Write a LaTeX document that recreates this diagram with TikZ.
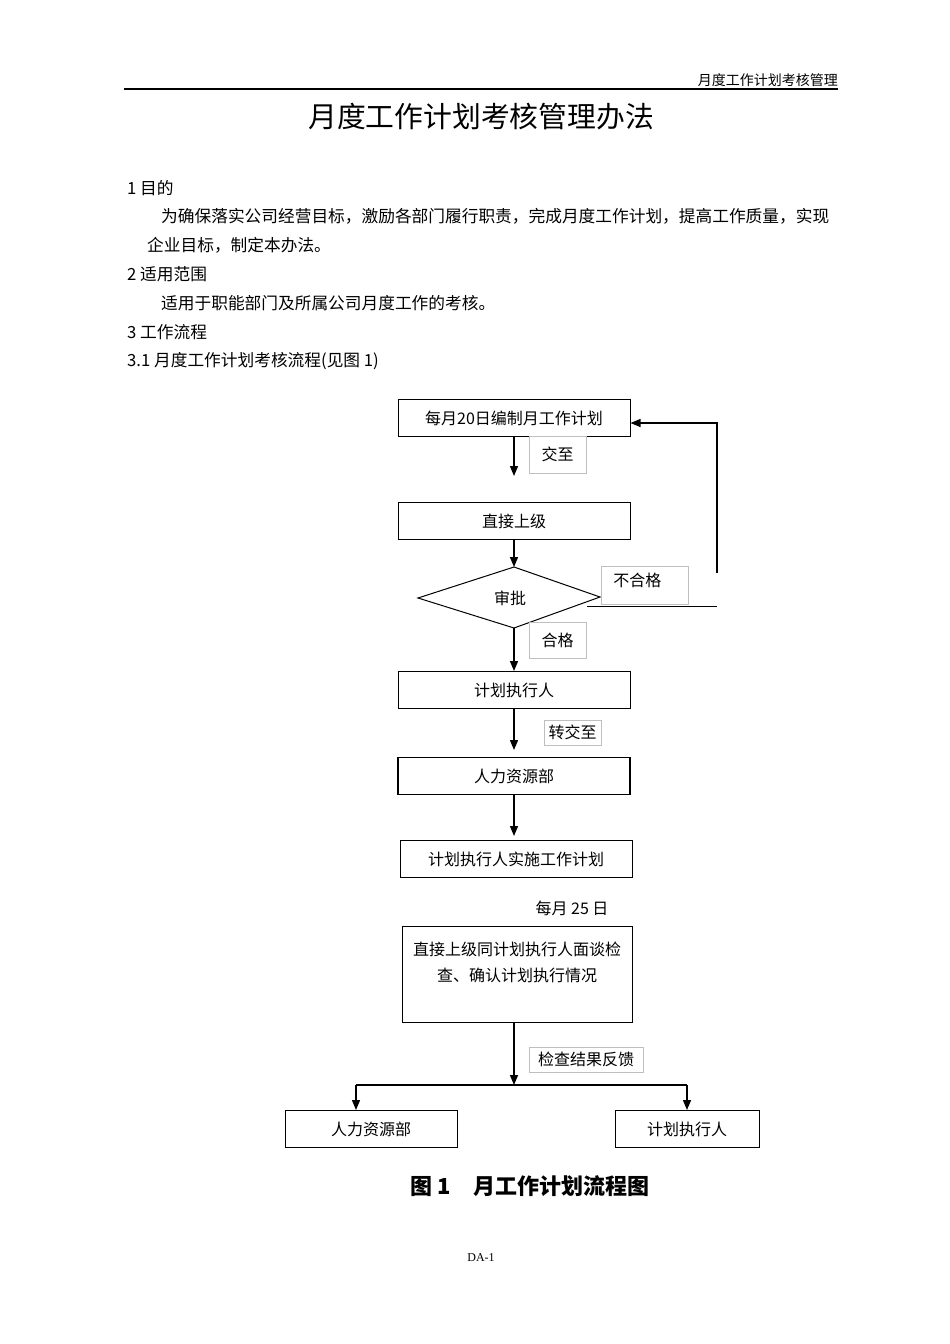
\documentclass[tikz,border=0pt]{standalone}
\usepackage{fontspec}
\setmainfont{Noto Sans CJK SC}
\newfontfamily\serifx{Liberation Serif}
\usetikzlibrary{arrows.meta}
\begin{document}
\begin{tikzpicture}[x=1pt,y=-1pt,
  box/.style={draw,line width=1pt,minimum height=37pt,inner sep=0pt,font=\fontsize{16}{19}\selectfont},
  lab/.style={draw=gray!50,line width=0.6pt,inner sep=0pt,font=\fontsize{16}{19}\selectfont},
  arr/.style={-{Triangle[length=10pt,width=8pt]},line width=1.4pt},
  body/.style={anchor=west,font=\fontsize{16.7}{20}\selectfont,inner sep=0pt}]
\useasboundingbox (0,0) rectangle (950,1344);
\fill[white] (0,0) rectangle (950,1344);
% header
\node[anchor=east,font=\fontsize{14}{16}\selectfont,inner sep=0pt] (hdr) at (838,80) {月度工作计划考核管理};
\draw[line width=1.2pt] (124,89) -- (838,89);
\node[font=\fontsize{28.8}{34}\selectfont,inner sep=0pt] (title) at (481,117) {月度工作计划考核管理办法};
\node[body] (s1) at (127,188) {1 目的};
\node[body] (t1) at (161,216) {为确保落实公司经营目标，激励各部门履行职责，完成月度工作计划，提高工作质量，实现};
\node[body] (t2) at (147,245) {企业目标，制定本办法。};
\node[body] (s2) at (127,274) {2 适用范围};
\node[body] (t3) at (161,303) {适用于职能部门及所属公司月度工作的考核。};
\node[body] (s3) at (127,332) {3 工作流程};
\node[body] (s31) at (127,361) {3.1 月度工作计划考核流程(见图 1)};
% flowchart
\node[box,minimum width=232pt] (b1) at (514,418) {每月20日编制月工作计划};
\node[box,minimum width=232pt] (b2) at (514,521) {直接上级};
\coordinate (dT) at (514,567); \coordinate (dB) at (514,628);
\coordinate (dL) at (418,598); \coordinate (dR) at (600,597);
\draw[line width=1pt] (dL) -- (dT) -- (dR) -- (dB) -- cycle;
\node[font=\fontsize{16}{19}\selectfont] (d) at (510,598) {审批};
\node[box,minimum width=232pt] (b3) at (514,690) {计划执行人};
\node[box,minimum width=232pt,line width=1.3pt] (b4) at (514,776) {人力资源部};
\node[box,minimum width=232pt] (b5) at (516,859) {计划执行人实施工作计划};
\node[font=\fontsize{16}{19}\selectfont,inner sep=0pt] (d25) at (572,908) {每月 25 日};
\node[box,minimum width=230pt,minimum height=96pt] (b6) at (517,974) {};
\node[font=\fontsize{16}{19}\selectfont,align=center,inner sep=0pt] (b6t) at (517,962) {直接上级同计划执行人面谈检\\[7pt]查、确认计划执行情况};
\node[box,minimum width=172pt] (b7) at (371,1129) {人力资源部};
\node[box,minimum width=144pt] (b8) at (687,1129) {计划执行人};
% labels
\node[lab,minimum width=57pt,minimum height=37pt] (l1) at (557.5,454.5) {交至};
\node[lab,minimum width=87pt,minimum height=38pt,anchor=north west,text width=75pt,align=left] (l2) at (601,566) {\hspace{6pt}不合格\vspace{10pt}};
\node[lab,minimum width=57pt,minimum height=36pt] (l3) at (557.5,640) {合格};
\node[lab,minimum width=57pt,minimum height=25pt] (l4) at (572.5,732.5) {转交至};
\node[lab,minimum width=114pt,minimum height=25pt] (l5) at (586,1059.5) {检查结果反馈};
% connectors
\draw[arr] (b1.south) -- (514,476);
\draw[arr] (b2.south) -- (dT);
\draw[arr] (dB) -- (b3.north);
\draw[arr] (b3.south) -- (514,750);
\draw[arr] (b4.south) -- (514,836);
\coordinate (r1) at (717,606); \coordinate (r2) at (717,573); \coordinate (r3) at (717,423);
\draw[line width=1pt] (587,606) -- (r1);
\draw[line width=1.2pt,-{Triangle[length=10pt,width=8pt]}] (r2) -- (r3) -- (b1.east |- r3);
\coordinate (j) at (514,1085);
\draw[arr] (b6.south -| j) -- (j);
\draw[line width=2pt] (356,1085) -- (687,1085);
\draw[arr] (356,1085) -- (b7.north -| 356,0);
\draw[arr] (687,1085) -- (b8.north);
\node[font=\bfseries\fontsize{22}{26}\selectfont,inner sep=0pt] (cap) at (530,1186) {图 1\quad 月工作计划流程图};
\node[font=\serifx\fontsize{12}{14}\selectfont,inner sep=0pt] (ft) at (481,1258) {DA-1};
\end{tikzpicture}
\end{document}
